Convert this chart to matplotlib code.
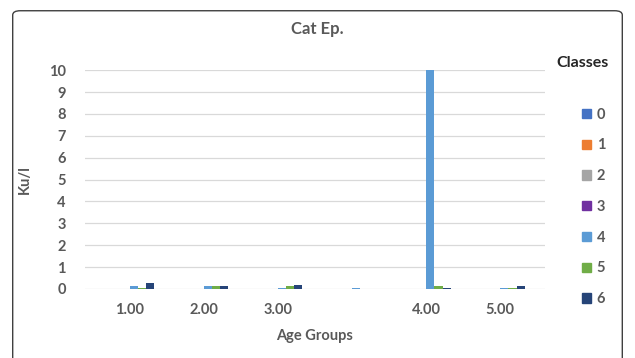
import matplotlib.pyplot as plt
import matplotlib.patches as mpatches
import numpy as np

plt.rcParams["font.family"] = ["Lato", "DejaVu Sans"]

GROUPS = ["1.00", "2.00", "3.00", "", "4.00", "5.00"]
CLASSES = ["0", "1", "2", "3", "4", "5", "6"]
COLORS = ["#4472C4", "#ED7D31", "#A5A5A5", "#7030A0", "#5B9BD5", "#70AD47", "#264478"]

# values per class across the age groups
class_0 = [0, 0, 0, 0, 0, 0]
class_1 = [0, 0, 0, 0, 0, 0]
class_2 = [0, 0, 0, 0, 0, 0]
class_3 = [0, 0, 0, 0, 0, 0]
class_4 = [0.15, 0.15, 0.03, 0.05, 10.0, 0.05]
class_5 = [0.05, 0.15, 0.15, 0.0, 0.15, 0.05]
class_6 = [0.25, 0.15, 0.2, 0.0, 0.05, 0.15]
VALUES = [class_0, class_1, class_2, class_3, class_4, class_5, class_6]

TEXT = "#595959"

fig = plt.figure(figsize=(6.35, 3.58), dpi=100)
ax = fig.add_axes([0.134, 0.193, 0.724, 0.611])

x = np.arange(len(GROUPS))
w = 0.11
for i, (vals, col) in enumerate(zip(VALUES, COLORS)):
    ax.bar(x + (i - 3.5) * w, vals, width=w, color=col, linewidth=0, zorder=3)

ax.set_ylim(0, 10)
ax.set_xlim(-0.6, len(GROUPS) - 0.4)
ax.set_yticks(range(0, 11))
ax.yaxis.grid(True, color="#D9D9D9", linewidth=0.9, zorder=0)
ax.set_xticks(x)
ax.set_xticklabels(GROUPS)
ax.tick_params(length=0, labelsize=10.5, labelcolor=TEXT, pad=10)
for lab in ax.get_xticklabels() + ax.get_yticklabels():
    lab.set_fontweight("bold")
ax.tick_params(axis="y", pad=14)
for s in ax.spines.values():
    s.set_visible(False)

ax.set_xlabel("Age Groups", fontsize=10.5, fontweight="bold", color=TEXT, labelpad=9)
ax.set_ylabel("Ku/l", fontsize=10.5, fontweight="bold", color=TEXT, labelpad=12)
fig.text(0.5, 0.92, "Cat Ep.", ha="center", va="center", fontsize=12,
         fontweight="bold", color=TEXT)

fig.text(0.918, 0.823, "Classes", ha="center", va="center", fontsize=11.5,
         fontweight="bold", color="#262626")
handles = [mpatches.Patch(color=c, label=l) for c, l in zip(COLORS, CLASSES)]
leg = fig.legend(handles=handles, loc="upper left", bbox_to_anchor=(0.905, 0.72),
                 frameon=False, fontsize=10.5, labelspacing=1.15, handlelength=0.6,
                 handleheight=0.6, handletextpad=0.4, borderpad=0)
for t in leg.get_texts():
    t.set_color(TEXT)
    t.set_fontweight("bold")

border = mpatches.FancyBboxPatch((0.02, -0.05), 0.96, 1.02, transform=fig.transFigure,
                                 boxstyle="round,pad=0,rounding_size=0.012",
                                 facecolor="none", edgecolor="#404040", linewidth=1.0)
fig.patches.append(border)

plt.savefig("out.png", dpi=100)
